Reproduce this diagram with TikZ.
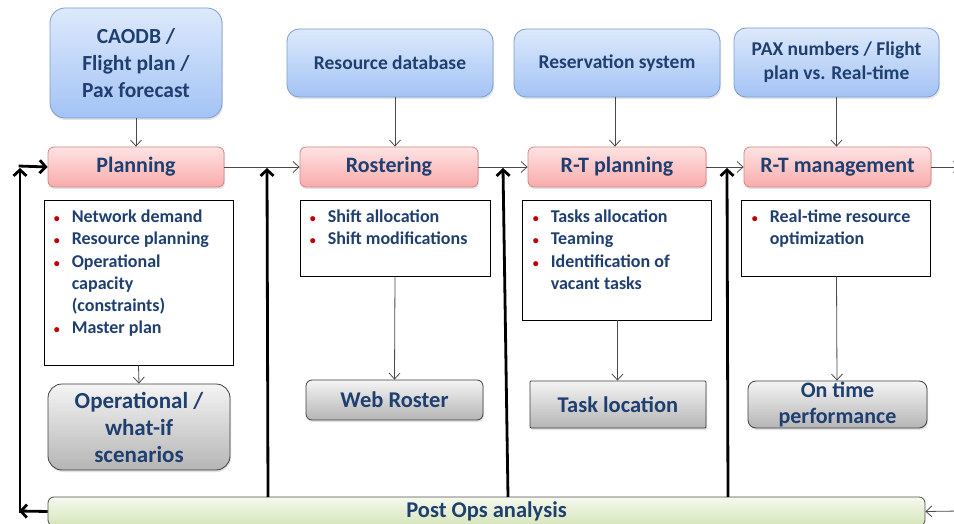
\documentclass[tikz,border=0pt]{standalone}
\usepackage{fontspec}
\setmainfont{Carlito}
\usetikzlibrary{arrows.meta,shadows,calc}

\definecolor{txt}{HTML}{1F3F70}
\definecolor{bulred}{HTML}{C00000}
\definecolor{bluetop}{HTML}{DDE9FB}
\definecolor{bluebot}{HTML}{A3C3F5}
\definecolor{blueedge}{HTML}{7C9FD3}
\definecolor{pinktop}{HTML}{FFE3E3}
\definecolor{pinkbot}{HTML}{F9ABAB}
\definecolor{pinkedge}{HTML}{D98383}
\definecolor{greytop}{HTML}{F4F4F4}
\definecolor{greybot}{HTML}{B5B5B5}
\definecolor{greyedge}{HTML}{404040}
\definecolor{greentop}{HTML}{F5F9EE}
\definecolor{greenbot}{HTML}{D6E5BA}
\definecolor{greenedge}{HTML}{505050}
\definecolor{thinline}{HTML}{4A4A4A}

\newcommand{\bul}{\textcolor{bulred}{\fontsize{12}{12}\selectfont\textbullet}}

\tikzset{
  lbl/.style={text=txt, font=\bfseries, align=center, inner sep=0pt},
  softshadow/.style={drop shadow={shadow xshift=1pt, shadow yshift=-2pt, opacity=0.22}},
  bluebox/.style={lbl, draw=blueedge, line width=0.8pt, rounded corners=12pt,
    top color=bluetop, bottom color=bluebot, softshadow},
  pinkbox/.style={lbl, draw=pinkedge, line width=0.8pt, rounded corners=6pt,
    top color=pinktop, bottom color=pinkbot, softshadow, font=\fontsize{22}{24}\selectfont\bfseries},
  greybox/.style={lbl, draw=greyedge, line width=0.8pt, rounded corners=8pt,
    top color=greytop, bottom color=greybot, softshadow},
  listbox/.style={draw=black, line width=0.8pt, fill=white},
  listtext/.style={text=txt, inner sep=0pt, anchor=north west, align=left,
    font=\fontsize{18}{22.3}\selectfont\bfseries},
  thinarrow/.style={draw=thinline, line width=0.8pt, -{Straight Barb[length=6pt,width=11pt]}},
  thickarrow/.style={draw=black, line width=2.8pt, -{Straight Barb[length=6pt,width=13pt]}},
  thickline/.style={draw=black, line width=2.8pt}
}

\newcommand{\blist}[1]{\begin{tabular}{@{}l@{\hspace{12pt}}l@{}}#1\end{tabular}}

\begin{document}
\begin{tikzpicture}[x=1pt, y=-1pt]
\fill[white] (0,0) rectangle (954,524);
\useasboundingbox (0,0) rectangle (954,524);

% data sources
\node[bluebox, rounded corners=15pt, minimum width=172pt, minimum height=110pt,
  font=\fontsize{21.5}{27}\selectfont\bfseries] (cao) at (136,63) {CAODB /\\Flight plan /\\Pax forecast};
\node[bluebox, minimum width=206pt, minimum height=68pt,
  font=\fontsize{19.5}{24}\selectfont\bfseries] (resdb) at (390,63) {Resource database};
\node[bluebox, minimum width=206pt, minimum height=68pt,
  font=\fontsize{19.5}{24}\selectfont\bfseries] (ressys) at (617,63) {Reservation system};
\node[bluebox, minimum width=205pt, minimum height=69pt,
  font=\fontsize{19.5}{24}\selectfont\bfseries] (pax) at (836.5,62.5) {PAX numbers / Flight\\plan vs. Real-time};

% process stages
\node[pinkbox, minimum width=176pt, minimum height=40pt] (plan) at (136,167) {Planning};
\node[pinkbox, minimum width=178pt, minimum height=40pt] (rost) at (389,167) {Rostering};
\node[pinkbox, minimum width=178pt, minimum height=40pt] (rtp) at (617,167) {R-T planning};
\node[pinkbox, minimum width=187pt, minimum height=40pt] (rtm) at (837.5,167) {R-T management};

% activity lists
\node[listbox, minimum width=189pt, minimum height=165pt] (wb1) at (138.5,282.5) {};
\node[listbox, minimum width=190pt, minimum height=76pt] (wb2) at (395,238) {};
\node[listbox, minimum width=189pt, minimum height=120pt] (wb3) at (616.5,260) {};
\node[listbox, minimum width=189pt, minimum height=76pt] (wb4) at (835.5,238) {};

\node[listtext] (l1) at ([xshift=10pt,yshift=-7pt]wb1.north west) {\blist{
  \bul & Network demand\\
  \bul & Resource planning\\
  \bul & Operational\\
       & capacity\\
       & (constraints)\\
  \bul & Master plan}};
\node[listtext] (l2) at ([xshift=10pt,yshift=-7pt]wb2.north west) {\blist{
  \bul & Shift allocation\\
  \bul & Shift modifications}};
\node[listtext] (l3) at ([xshift=11pt,yshift=-7pt]wb3.north west) {\blist{
  \bul & Tasks allocation\\
  \bul & Teaming\\
  \bul & Identification of\\
       & vacant tasks}};
\node[listtext] (l4) at ([xshift=11pt,yshift=-7pt]wb4.north west) {\blist{
  \bul & Real-time resource\\
       & optimization}};

% outputs
\node[greybox, rounded corners=14pt, minimum width=182pt, minimum height=86pt,
  font=\fontsize{23}{27}\selectfont\bfseries] (g1) at (139,427) {Operational /\\what-if\\scenarios};
\node[greybox, rounded corners=6pt, minimum width=177pt, minimum height=40pt,
  font=\fontsize{22.5}{24}\selectfont\bfseries] (g2) at (394.5,400) {Web Roster};
\node[greybox, rounded corners=1pt, minimum width=176pt, minimum height=47pt,
  font=\fontsize{22.5}{26}\selectfont\bfseries] (g3) at (618,404.5) {Task location};
\node[greybox, rounded corners=8pt, minimum width=179pt, minimum height=47pt,
  font=\fontsize{22}{26}\selectfont\bfseries] (g4) at (837.5,404.5) {On time\\performance};

% post operations feedback bar
\node[lbl, draw=greenedge, line width=0.8pt, rounded corners=6pt,
  top color=greentop, bottom color=greenbot,
  minimum width=877pt, minimum height=29pt,
  font=\fontsize{22.5}{24}\selectfont\bfseries] (post) at (486.5,511.5) {Post Ops analysis};

% free ends and junctions
\coordinate (outR) at (960,167);
\coordinate (inR) at (960,511);
\coordinate (j1) at (267,168);
\coordinate (j2) at (503,168);
\coordinate (j3) at (727,168);
\coordinate (b1) at (268,497);
\coordinate (b2) at (508,497);
\coordinate (b3) at (728,497);
\coordinate (lb) at (19,511);
\coordinate (lt) at (20,168);
\coordinate (lc) at (20,166);

% thin connectors
\draw[thinarrow] (cao.south) -- (plan.north);
\draw[thinarrow] ([xshift=5pt]resdb.south) -- ([xshift=6pt]rost.north);
\draw[thinarrow] ([xshift=-2pt]ressys.south) -- ([xshift=-2pt]rtp.north);
\draw[thinarrow] (pax.south) -- ([xshift=-1pt]rtm.north);
\draw[thinarrow] (plan.east) -- (rost.west);
\draw[thinarrow] (rost.east) -- (rtp.west);
\draw[thinarrow] (rtp.east) -- (rtm.west);
\draw[thinarrow] (rtm.east) -- (outR);
\draw[thinarrow] (inR) -- (post.east);
\draw[thinarrow] (wb1.south) -- (g1.north);
\draw[thinarrow] (wb2.south) -- (g2.north);
\draw[thinarrow] ([xshift=1pt]wb3.south) -- ([xshift=-0.5pt]g3.north);
\draw[thinarrow] ([xshift=1pt]wb4.south) -- ([xshift=-0.5pt]g4.north);

% feedback loops
\draw[thickarrow] (b1) -- (j1);
\draw[thickarrow] (b2) -- (j2);
\draw[thickarrow] (b3) -- (j3);
\draw[thickarrow] (post.west) -- (lb);
\draw[thickline] (lb -| lt) -- ++(0,2);
\draw[thickarrow] (lb -| lt) -- (lt);
\draw[thickarrow] ([xshift=-1.4pt]lc) -- (plan.west);
\end{tikzpicture}
\end{document}
